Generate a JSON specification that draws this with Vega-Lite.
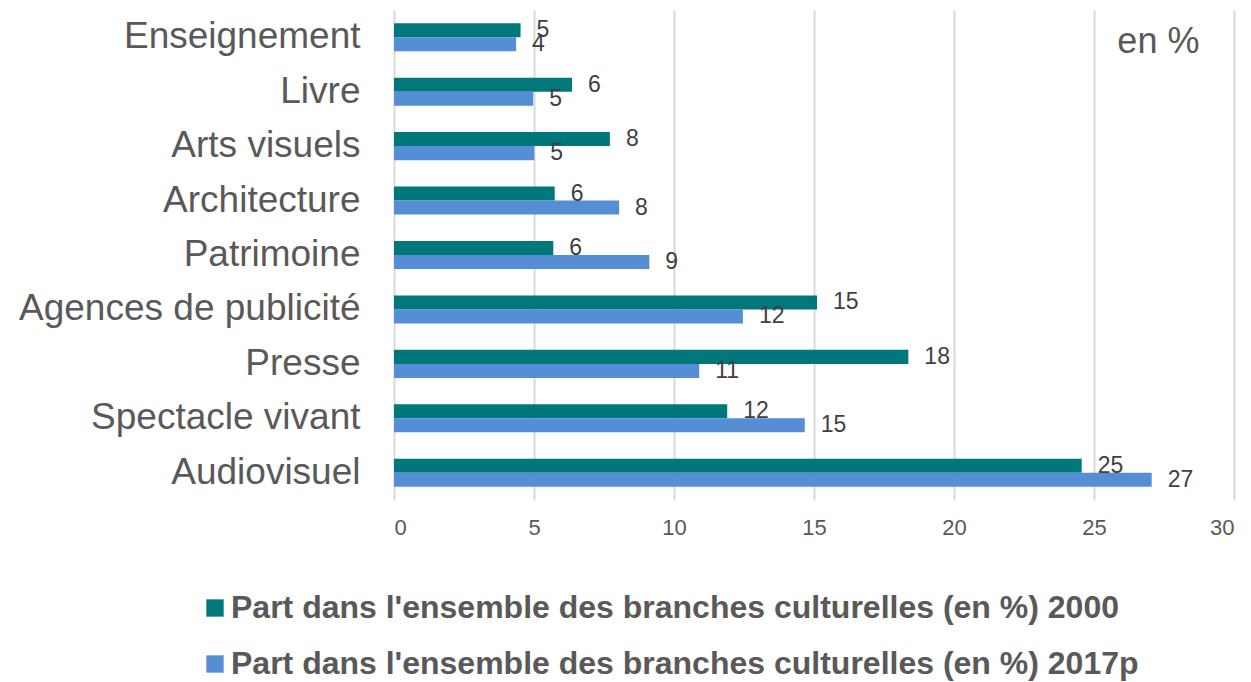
{
  "$schema": "https://vega.github.io/schema/vega-lite/v6.json",
  "autosize": {"type": "none"},
  "padding": {"left": 394, "top": 10, "right": 17, "bottom": 182},
  "width": 840,
  "height": 490,
  "config": {
    "font": "Liberation Sans",
    "view": {"stroke": null},
    "background": "white"
  },
  "datasets": {
    "main": [
      {"branche": "Enseignement", "serie": "Part dans l'ensemble des branches culturelles (en %) 2000", "valeur": 4.52},
      {"branche": "Enseignement", "serie": "Part dans l'ensemble des branches culturelles (en %) 2017p", "valeur": 4.36},
      {"branche": "Livre", "serie": "Part dans l'ensemble des branches culturelles (en %) 2000", "valeur": 6.36},
      {"branche": "Livre", "serie": "Part dans l'ensemble des branches culturelles (en %) 2017p", "valeur": 4.97},
      {"branche": "Arts visuels", "serie": "Part dans l'ensemble des branches culturelles (en %) 2000", "valeur": 7.71},
      {"branche": "Arts visuels", "serie": "Part dans l'ensemble des branches culturelles (en %) 2017p", "valeur": 5.01},
      {"branche": "Architecture", "serie": "Part dans l'ensemble des branches culturelles (en %) 2000", "valeur": 5.74},
      {"branche": "Architecture", "serie": "Part dans l'ensemble des branches culturelles (en %) 2017p", "valeur": 8.04},
      {"branche": "Patrimoine", "serie": "Part dans l'ensemble des branches culturelles (en %) 2000", "valeur": 5.69},
      {"branche": "Patrimoine", "serie": "Part dans l'ensemble des branches culturelles (en %) 2017p", "valeur": 9.12},
      {"branche": "Agences de publicité", "serie": "Part dans l'ensemble des branches culturelles (en %) 2000", "valeur": 15.11},
      {"branche": "Agences de publicité", "serie": "Part dans l'ensemble des branches culturelles (en %) 2017p", "valeur": 12.46},
      {"branche": "Presse", "serie": "Part dans l'ensemble des branches culturelles (en %) 2000", "valeur": 18.37},
      {"branche": "Presse", "serie": "Part dans l'ensemble des branches culturelles (en %) 2017p", "valeur": 10.9},
      {"branche": "Spectacle vivant", "serie": "Part dans l'ensemble des branches culturelles (en %) 2000", "valeur": 11.9},
      {"branche": "Spectacle vivant", "serie": "Part dans l'ensemble des branches culturelles (en %) 2017p", "valeur": 14.67},
      {"branche": "Audiovisuel", "serie": "Part dans l'ensemble des branches culturelles (en %) 2000", "valeur": 24.56},
      {"branche": "Audiovisuel", "serie": "Part dans l'ensemble des branches culturelles (en %) 2017p", "valeur": 27.06}
    ],
    "note": [{"texte": "en %"}]
  },
  "layer": [
    {
      "data": {"name": "main"},
      "mark": {"type": "bar"},
      "encoding": {
        "y": {
          "field": "branche", "type": "nominal",
          "sort": ["Enseignement", "Livre", "Arts visuels", "Architecture", "Patrimoine", "Agences de publicité", "Presse", "Spectacle vivant", "Audiovisuel"],
          "scale": {"paddingInner": 0.485, "paddingOuter": 0.2425},
          "axis": {"title": null, "domain": false, "ticks": false, "labelFontSize": 37, "labelColor": "#595959", "labelPadding": 34, "labelFont": "Liberation Sans", "labelLimit": 600}
        },
        "yOffset": {
          "field": "serie", "type": "nominal",
          "sort": ["Part dans l'ensemble des branches culturelles (en %) 2000", "Part dans l'ensemble des branches culturelles (en %) 2017p"],
          "scale": {"paddingInner": 0, "paddingOuter": 0}
        },
        "x": {
          "field": "valeur", "type": "quantitative",
          "scale": {"domain": [0, 30], "nice": false},
          "axis": {"title": null, "values": [0, 5, 10, 15, 20, 25, 30], "domain": false, "ticks": false, "grid": true, "gridColor": "#d9d9d9", "gridWidth": 2, "labelFontSize": 22, "labelColor": "#595959", "labelPadding": 17, "labelFont": "Liberation Sans"}
        },
        "color": {
          "field": "serie", "type": "nominal",
          "sort": ["Part dans l'ensemble des branches culturelles (en %) 2000", "Part dans l'ensemble des branches culturelles (en %) 2017p"],
          "scale": {"range": ["#00777B", "#558ED5"]},
          "legend": {
            "title": null, "orient": "none", "legendX": -195, "legendY": 582, "direction": "vertical",
            "symbolType": "square", "symbolSize": 300, "symbolStrokeWidth": 0,
            "labelFontSize": 32, "labelFontWeight": "bold", "labelColor": "#595959", "labelFont": "Liberation Sans",
            "labelOffset": 0, "rowPadding": 24, "padding": 0, "labelLimit": 1000
          }
        }
      }
    },
    {
      "data": {"name": "main"},
      "mark": {"type": "text", "align": "left", "baseline": "middle", "dx": 16, "fontSize": 23, "color": "#404040", "font": "Liberation Sans"},
      "encoding": {
        "y": {"field": "branche", "type": "nominal", "sort": ["Enseignement", "Livre", "Arts visuels", "Architecture", "Patrimoine", "Agences de publicité", "Presse", "Spectacle vivant", "Audiovisuel"]},
        "yOffset": {"field": "serie", "type": "nominal", "sort": ["Part dans l'ensemble des branches culturelles (en %) 2000", "Part dans l'ensemble des branches culturelles (en %) 2017p"]},
        "x": {"field": "valeur", "type": "quantitative"},
        "text": {"field": "valeur", "type": "quantitative", "format": ".0f"}
      }
    },
    {
      "data": {"name": "note"},
      "mark": {"type": "text", "align": "center", "baseline": "middle", "dy": 5, "fontSize": 36, "color": "#595959", "font": "Liberation Sans"},
      "encoding": {
        "x": {"datum": 27.3, "type": "quantitative"},
        "y": {"datum": "Enseignement", "type": "nominal"},
        "text": {"field": "texte", "type": "nominal"}
      }
    }
  ]
}
